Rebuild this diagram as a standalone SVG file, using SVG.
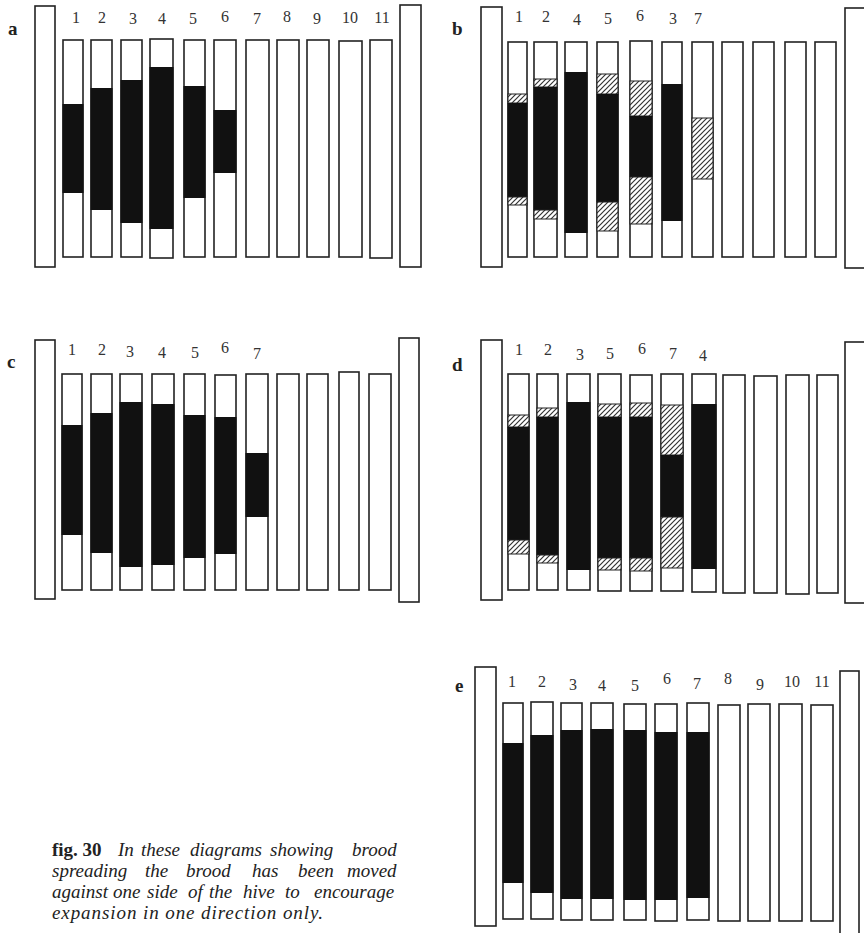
<svg xmlns="http://www.w3.org/2000/svg" width="864" height="933" viewBox="0 0 864 933">
<defs>
<pattern id="hatch" patternUnits="userSpaceOnUse" width="5" height="5">
<rect width="5" height="5" fill="#fff"/>
<path d="M-1,6 L6,-1 M-1,1 L1,-1 M4,6 L6,4" stroke="#333" stroke-width="1.2"/>
</pattern>
</defs>
<style>
.f{fill:#fff;stroke:#222;stroke-width:1.6}
.k{fill:#111}
.h{fill:url(#hatch);stroke:#222;stroke-width:1}
.n{font-family:"Liberation Serif",serif;font-size:16px;fill:#333;text-anchor:middle}
.L{font-family:"Liberation Serif",serif;font-size:19px;font-weight:bold;fill:#222}
.c{font-family:"Liberation Serif",serif;font-size:19px;font-style:italic;fill:#222}
.cb{font-weight:bold;font-style:normal}
</style>
<rect width="864" height="933" fill="#fff"/>

<g id="panel-a">
<text class="L" x="8" y="35">a</text>
<rect class="f" x="35" y="6" width="20" height="261"/>
<rect class="f" x="400" y="5" width="21" height="262"/>
<rect class="f" x="63" y="40" width="20" height="217"/>
<rect class="f" x="91" y="40" width="21" height="217"/>
<rect class="f" x="121" y="40" width="21" height="217"/>
<rect class="f" x="150" y="39" width="23" height="219"/>
<rect class="f" x="184" y="40" width="21" height="217"/>
<rect class="f" x="214" y="40" width="22" height="217"/>
<rect class="f" x="246" y="40" width="23" height="217"/>
<rect class="f" x="277" y="40" width="22" height="217"/>
<rect class="f" x="307" y="40" width="22" height="217"/>
<rect class="f" x="339" y="41" width="23" height="216"/>
<rect class="f" x="370" y="40" width="22" height="218"/>
<rect class="k" x="62.5" y="104" width="21" height="89"/>
<rect class="k" x="90.5" y="88" width="22" height="122"/>
<rect class="k" x="120.5" y="80" width="22" height="143"/>
<rect class="k" x="149.5" y="67" width="24" height="162"/>
<rect class="k" x="183.5" y="86" width="22" height="112"/>
<rect class="k" x="213.5" y="110" width="23" height="63"/>
<text class="n" x="76" y="23">1</text>
<text class="n" x="102" y="23">2</text>
<text class="n" x="133" y="24">3</text>
<text class="n" x="162" y="24">4</text>
<text class="n" x="193" y="24">5</text>
<text class="n" x="225" y="22">6</text>
<text class="n" x="257" y="24">7</text>
<text class="n" x="287" y="22">8</text>
<text class="n" x="317" y="24">9</text>
<text class="n" x="350" y="23">10</text>
<text class="n" x="382" y="23">11</text>
</g>

<g id="panel-b">
<text class="L" x="452" y="35">b</text>
<rect class="f" x="481" y="7" width="21" height="260"/>
<rect class="f" x="845" y="8" width="21" height="260"/>
<rect class="f" x="508" y="42" width="19" height="215"/>
<rect class="f" x="534" y="42" width="23" height="215"/>
<rect class="f" x="565" y="42" width="22" height="215"/>
<rect class="f" x="597" y="42" width="21" height="215"/>
<rect class="f" x="630" y="41" width="22" height="216"/>
<rect class="f" x="662" y="42" width="20" height="215"/>
<rect class="f" x="692" y="42" width="21" height="215"/>
<rect class="f" x="722" y="42" width="21" height="215"/>
<rect class="f" x="753" y="42" width="21" height="215"/>
<rect class="f" x="785" y="42" width="21" height="215"/>
<rect class="f" x="815" y="42" width="21" height="215"/>
<rect class="h" x="508" y="94" width="19" height="9"/>
<rect class="k" x="507.5" y="103" width="20" height="94"/>
<rect class="h" x="508" y="197" width="19" height="8"/>
<rect class="h" x="534" y="79" width="23" height="8"/>
<rect class="k" x="533.5" y="87" width="24" height="123"/>
<rect class="h" x="534" y="210" width="23" height="9"/>
<rect class="k" x="564.5" y="72" width="23" height="161"/>
<rect class="h" x="597" y="74" width="21" height="20"/>
<rect class="k" x="596.5" y="94" width="22" height="108"/>
<rect class="h" x="597" y="202" width="21" height="29"/>
<rect class="h" x="630" y="81" width="22" height="35"/>
<rect class="k" x="629.5" y="116" width="23" height="61"/>
<rect class="h" x="630" y="177" width="22" height="47"/>
<rect class="k" x="661.5" y="84" width="21" height="137"/>
<rect class="h" x="692" y="118" width="21" height="61"/>
<text class="n" x="519" y="22">1</text>
<text class="n" x="546" y="22">2</text>
<text class="n" x="577" y="25">4</text>
<text class="n" x="608" y="24">5</text>
<text class="n" x="640" y="21">6</text>
<text class="n" x="673" y="24">3</text>
<text class="n" x="698" y="24">7</text>
</g>

<g id="panel-c">
<text class="L" x="7" y="368">c</text>
<rect class="f" x="35" y="340" width="20" height="259"/>
<rect class="f" x="399" y="338" width="20" height="264"/>
<rect class="f" x="62" y="374" width="20" height="216"/>
<rect class="f" x="91" y="374" width="21" height="216"/>
<rect class="f" x="120" y="374" width="22" height="216"/>
<rect class="f" x="152" y="374" width="22" height="216"/>
<rect class="f" x="184" y="374" width="21" height="216"/>
<rect class="f" x="215" y="375" width="21" height="215"/>
<rect class="f" x="246" y="374" width="22" height="216"/>
<rect class="f" x="277" y="374" width="22" height="216"/>
<rect class="f" x="307" y="374" width="21" height="216"/>
<rect class="f" x="339" y="372" width="20" height="218"/>
<rect class="f" x="369" y="374" width="22" height="216"/>
<rect class="k" x="61.5" y="425" width="21" height="110"/>
<rect class="k" x="90.5" y="413" width="22" height="140"/>
<rect class="k" x="119.5" y="402" width="23" height="165"/>
<rect class="k" x="151.5" y="404" width="23" height="161"/>
<rect class="k" x="183.5" y="415" width="22" height="143"/>
<rect class="k" x="214.5" y="417" width="22" height="137"/>
<rect class="k" x="245.5" y="453" width="23" height="64"/>
<text class="n" x="72" y="355">1</text>
<text class="n" x="102" y="355">2</text>
<text class="n" x="130" y="357">3</text>
<text class="n" x="162" y="358">4</text>
<text class="n" x="195" y="358">5</text>
<text class="n" x="225" y="353">6</text>
<text class="n" x="257" y="359">7</text>
</g>

<g id="panel-d">
<text class="L" x="452" y="371">d</text>
<rect class="f" x="481" y="340" width="21" height="260"/>
<rect class="f" x="845" y="342" width="21" height="261"/>
<rect class="f" x="508" y="374" width="21" height="216"/>
<rect class="f" x="537" y="374" width="21" height="216"/>
<rect class="f" x="567" y="374" width="23" height="216"/>
<rect class="f" x="598" y="374" width="23" height="217"/>
<rect class="f" x="630" y="375" width="22" height="216"/>
<rect class="f" x="661" y="374" width="22" height="217"/>
<rect class="f" x="692" y="374" width="24" height="218"/>
<rect class="f" x="723" y="375" width="22" height="218"/>
<rect class="f" x="754" y="376" width="23" height="217"/>
<rect class="f" x="786" y="375" width="23" height="219"/>
<rect class="f" x="817" y="375" width="21" height="218"/>
<rect class="h" x="508" y="415" width="21" height="12"/>
<rect class="k" x="507.5" y="427" width="22" height="113"/>
<rect class="h" x="508" y="540" width="21" height="14"/>
<rect class="h" x="537" y="408" width="21" height="9"/>
<rect class="k" x="536.5" y="417" width="22" height="138"/>
<rect class="h" x="537" y="555" width="21" height="8"/>
<rect class="k" x="566.5" y="402" width="24" height="168"/>
<rect class="h" x="598" y="404" width="23" height="13"/>
<rect class="k" x="597.5" y="417" width="24" height="141"/>
<rect class="h" x="598" y="558" width="23" height="12"/>
<rect class="h" x="630" y="403" width="22" height="14"/>
<rect class="k" x="629.5" y="417" width="23" height="141"/>
<rect class="h" x="630" y="558" width="22" height="13"/>
<rect class="h" x="661" y="405" width="22" height="50"/>
<rect class="k" x="660.5" y="455" width="23" height="62"/>
<rect class="h" x="661" y="517" width="22" height="51"/>
<rect class="k" x="691.5" y="404" width="25" height="165"/>
<text class="n" x="519" y="355">1</text>
<text class="n" x="548" y="355">2</text>
<text class="n" x="580" y="360">3</text>
<text class="n" x="610" y="359">5</text>
<text class="n" x="642" y="354">6</text>
<text class="n" x="673" y="359">7</text>
<text class="n" x="703" y="361">4</text>
</g>

<g id="panel-e">
<text class="L" x="455" y="692">e</text>
<rect class="f" x="475" y="667" width="21" height="259"/>
<rect class="f" x="840" y="671" width="19" height="264"/>
<rect class="f" x="503" y="703" width="20" height="216"/>
<rect class="f" x="531" y="702" width="22" height="217"/>
<rect class="f" x="561" y="703" width="21" height="217"/>
<rect class="f" x="591" y="703" width="22" height="217"/>
<rect class="f" x="624" y="704" width="22" height="216"/>
<rect class="f" x="655" y="704" width="22" height="217"/>
<rect class="f" x="687" y="703" width="22" height="217"/>
<rect class="f" x="718" y="705" width="22" height="216"/>
<rect class="f" x="748" y="704" width="22" height="217"/>
<rect class="f" x="779" y="704" width="23" height="217"/>
<rect class="f" x="811" y="705" width="22" height="216"/>
<rect class="k" x="502.5" y="743" width="21" height="140"/>
<rect class="k" x="530.5" y="735" width="23" height="158"/>
<rect class="k" x="560.5" y="730" width="22" height="169"/>
<rect class="k" x="590.5" y="729" width="23" height="170"/>
<rect class="k" x="623.5" y="730" width="23" height="170"/>
<rect class="k" x="654.5" y="732" width="23" height="168"/>
<rect class="k" x="686.5" y="732" width="23" height="166"/>
<text class="n" x="512" y="687">1</text>
<text class="n" x="542" y="687">2</text>
<text class="n" x="573" y="690">3</text>
<text class="n" x="602" y="691">4</text>
<text class="n" x="635" y="691">5</text>
<text class="n" x="667" y="684">6</text>
<text class="n" x="697" y="689">7</text>
<text class="n" x="728" y="684">8</text>
<text class="n" x="760" y="690">9</text>
<text class="n" x="792" y="687">10</text>
<text class="n" x="822" y="687">11</text>
</g>

<g id="caption">
<text class="c" y="856"><tspan class="cb" x="52">fig. 30</tspan><tspan x="118">In</tspan><tspan x="141">these</tspan><tspan x="190">diagrams</tspan><tspan x="270">showing</tspan><tspan x="352">brood</tspan></text>
<text class="c" y="877"><tspan x="52">spreading</tspan><tspan x="145">the</tspan><tspan x="186">brood</tspan><tspan x="252">has</tspan><tspan x="298">been</tspan><tspan x="347">moved</tspan></text>
<text class="c" y="898"><tspan x="52">against</tspan><tspan x="113">one</tspan><tspan x="147">side</tspan><tspan x="188">of</tspan><tspan x="209">the</tspan><tspan x="243">hive</tspan><tspan x="285">to</tspan><tspan x="314">encourage</tspan></text>
<text class="c" x="52" y="919" textLength="271" lengthAdjust="spacing">expansion in one direction only.</text>
</g>
</svg>
